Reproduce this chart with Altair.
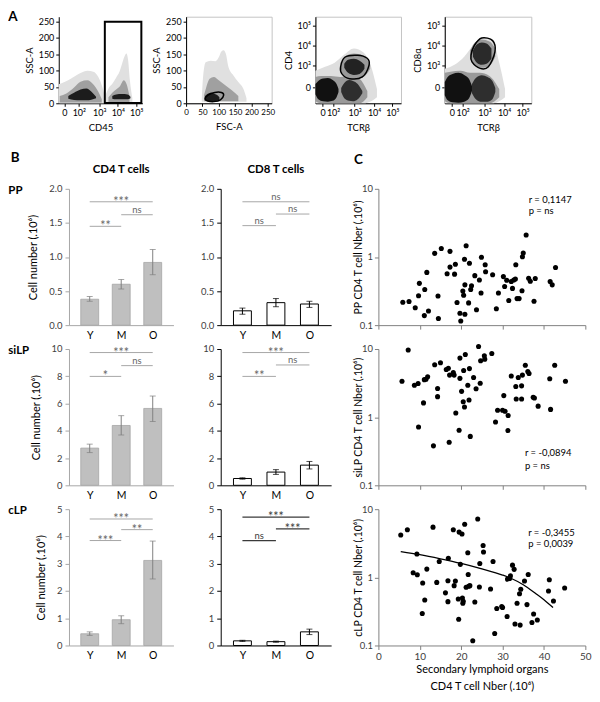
import json
import altair as alt
import pandas as pd

FONT = "Lato"

# ---------------- Panel A: flow cytometry sketches ----------------
dec_labels = ["0", "10²", "10³", "10⁴", "10⁵"]
a1_xticks = [0.29, 1.05, 2.12, 3.09, 4.05]
lin_ticks = [0, 50, 100, 150, 200, 250]
a34_xticks = [0.37, 0.92, 2.04, 3.05, 4.0]
a34_yticks = [0.79, 1.85, 2.85, 3.85]
a34_ylabels = ["0", "10³", "10⁴", "10⁵"]

a1_blobs = [
    dict(x=[0, 0.3, 0.63, 1.14, 1.5, 1.81, 2.07, 2.25, 2.4], lo=[0] * 9,
         hi=[58, 65, 75, 92, 99, 96, 80, 55, 25]),
    dict(x=[2.45, 2.6, 2.83, 3.0, 3.17, 3.3, 3.42, 3.54, 3.62, 3.72, 3.85], lo=[0] * 11,
         hi=[25, 45, 62, 78, 95, 118, 140, 152, 135, 70, 15]),
    dict(x=[0.05, 0.4, 0.8, 1.14, 1.5, 1.8, 2.07, 2.25], lo=[2] * 8,
         hi=[22, 30, 48, 66, 70, 58, 35, 12]),
    dict(x=[2.6, 2.8, 3.0, 3.2, 3.4, 3.55, 3.7], lo=[3] * 7,
         hi=[18, 32, 42, 52, 70, 58, 22]),
    dict(x=[0.5, 0.8, 1.14, 1.45, 1.7, 1.95], lo=[14, 10, 9, 9, 11, 15],
         hi=[22, 32, 42, 45, 36, 20]),
    dict(x=[2.8, 3.0, 3.3, 3.6, 3.75], lo=[14, 12, 12, 12, 15],
         hi=[22, 27, 28, 27, 20]),
]
a1_tones = ["#e0e0e0", "#e0e0e0", "#a0a0a0", "#a0a0a0", "#1c1c1c", "#1c1c1c"]
a1_gate = dict(x1=[2.41], x2=[4.32], y1=[1], y2=[249])

a2_blobs = [
    dict(x=[48, 52, 60, 75, 90, 100, 108, 115, 122, 130, 145, 160, 175, 185], lo=[5] * 14,
         hi=[12, 80, 125, 130, 128, 140, 158, 162, 150, 110, 85, 65, 45, 15]),
    dict(x=[55, 62, 72, 85, 100, 120, 140, 160], lo=[6] * 8,
         hi=[25, 50, 75, 80, 70, 55, 40, 22]),
    dict(x=[58, 65, 75, 85, 95, 102], lo=[10, 8, 7, 7, 8, 11],
         hi=[22, 28, 32, 30, 25, 18]),
]
a2_tones = ["#e0e0e0", "#a0a0a0", "#1c1c1c"]
a2_gate_x = [58, 66, 85, 105, 115, 108, 88, 67]
a2_gate_y = [13, 7, 5, 10, 25, 33, 33, 25]

a3_blobs = [
    dict(x=[0, 0.5, 1.0, 1.5, 2.0, 2.5, 2.9, 3.2], lo=[0, 0, 0, 0, 0, 0, 0.1, 0.3],
         hi=[1.6, 1.8, 2.0, 2.4, 2.7, 2.5, 1.8, 0.7]),
    dict(x=[0, 0.3, 0.8, 1.3, 1.8, 2.3, 2.7], lo=[0.1, 0, 0, 0, 0, 0, 0.3],
         hi=[1.3, 1.35, 1.35, 1.3, 1.35, 1.2, 0.6]),
    dict(x=[1.3, 1.6, 2.0, 2.5, 2.85], lo=[1.6, 1.3, 1.2, 1.3, 1.7],
         hi=[2.0, 2.35, 2.45, 2.35, 1.9]),
    dict(x=[0.0, 0.15, 0.4, 0.65, 0.9, 1.1, 1.2], lo=[0.45, 0.2, 0.1, 0.08, 0.12, 0.3, 0.55],
         hi=[0.95, 1.1, 1.22, 1.25, 1.15, 0.95, 0.7]),
    dict(x=[1.34, 1.5, 1.75, 1.95, 2.2, 2.44], lo=[0.55, 0.25, 0.12, 0.1, 0.2, 0.5],
         hi=[0.75, 1.0, 1.15, 1.1, 0.95, 0.6]),
    dict(x=[1.5, 1.7, 2.0, 2.3, 2.55], lo=[1.75, 1.5, 1.4, 1.45, 1.7],
         hi=[1.95, 2.15, 2.2, 2.1, 1.9]),
]
a3_tones = ["#dedede", "#9a9a9a", "#9a9a9a", "#111111", "#2e2e2e", "#222222"]
a3_gate_x = [1.31, 1.53, 2.19, 2.69, 2.79, 2.44, 1.78, 1.38]
a3_gate_y = [1.79, 2.27, 2.37, 2.22, 1.88, 1.30, 1.21, 1.45]

a4_blobs = [
    dict(x=[0, 0.5, 1.0, 1.5, 2.0, 2.5, 2.8, 3.1], lo=[0, 0, 0, 0, 0, 0, 0.1, 0.3],
         hi=[1.7, 1.9, 2.3, 2.9, 3.2, 3.0, 2.0, 0.7]),
    dict(x=[0, 0.3, 0.8, 1.3, 1.8, 2.3, 2.8], lo=[0.1, 0, 0, 0, 0, 0, 0.3],
         hi=[1.5, 1.55, 1.6, 1.5, 1.5, 1.35, 0.7]),
    dict(x=[1.3, 1.55, 1.9, 2.3, 2.6], lo=[2.2, 1.85, 1.75, 1.85, 2.3],
         hi=[2.6, 3.0, 3.15, 3.05, 2.7]),
    dict(x=[0.0, 0.15, 0.4, 0.7, 1.0, 1.25, 1.4], lo=[0.4, 0.15, 0.05, 0.03, 0.08, 0.25, 0.6],
         hi=[1.05, 1.3, 1.45, 1.5, 1.4, 1.2, 0.85]),
    dict(x=[1.4, 1.6, 1.9, 2.2, 2.45, 2.6], lo=[0.5, 0.2, 0.07, 0.08, 0.2, 0.55],
         hi=[0.95, 1.25, 1.38, 1.3, 1.1, 0.75]),
    dict(x=[1.45, 1.65, 1.9, 2.15, 2.4], lo=[2.3, 2.0, 1.9, 1.95, 2.2],
         hi=[2.6, 2.9, 3.0, 2.95, 2.7]),
]
a4_tones = ["#dedede", "#9a9a9a", "#9a9a9a", "#111111", "#2e2e2e", "#2a2a2a"]
a4_gate_x = [1.35, 1.52, 1.90, 2.46, 2.58, 2.24, 1.82, 1.40]
a4_gate_y = [2.37, 2.85, 3.22, 3.09, 2.53, 1.80, 1.72, 2.04]

# ---------------- Panel B: bar charts ----------------
groups = ["Y", "M", "O"]

pp_cd4_mean = [0.38, 0.60, 0.92]
pp_cd4_lo = [0.35, 0.53, 0.74]
pp_cd4_hi = [0.42, 0.67, 1.11]
pp_cd4_sig = dict(f=[0, 1, 0], t=[2, 2, 1], lev=[1.81, 1.62, 1.45], txt=["***", "ns", "**"])

pp_cd8_mean = [0.21, 0.33, 0.31]
pp_cd8_lo = [0.16, 0.27, 0.26]
pp_cd8_hi = [0.25, 0.39, 0.35]
pp_cd8_sig = dict(f=[0, 1, 0], t=[2, 2, 1], lev=[1.81, 1.63, 1.46], txt=["ns", "ns", "ns"])

si_cd4_mean = [2.73, 4.39, 5.64]
si_cd4_lo = [2.40, 3.69, 4.68]
si_cd4_hi = [3.02, 5.11, 6.55]
si_cd4_sig = dict(f=[0, 1, 0], t=[2, 2, 1], lev=[9.74, 8.78, 7.99], txt=["***", "ns", "*"])

si_cd8_mean = [0.50, 0.97, 1.48]
si_cd8_lo = [0.45, 0.80, 1.20]
si_cd8_hi = [0.55, 1.15, 1.75]
si_cd8_sig = dict(f=[0, 1, 0], t=[2, 2, 1], lev=[9.74, 8.83, 7.99], txt=["***", "ns", "**"])

cl_cd4_mean = [0.43, 0.945, 3.12]
cl_cd4_lo = [0.37, 0.80, 2.44]
cl_cd4_hi = [0.50, 1.09, 3.83]
cl_cd4_sig = dict(f=[0, 1, 0], t=[2, 2, 1], lev=[4.64, 4.25, 3.85], txt=["***", "**", "***"])

cl_cd8_mean = [0.17, 0.14, 0.50]
cl_cd8_lo = [0.15, 0.12, 0.40]
cl_cd8_hi = [0.19, 0.16, 0.60]
cl_cd8_sig = dict(f=[0, 1, 0], t=[2, 2, 1], lev=[4.71, 4.28, 3.85], txt=["***", "***", "ns"])

# ---------------- Panel C: scatter plots ----------------
pp_x = [5.9, 7.4, 8.9, 9.7, 9.9, 11.1, 11.2, 11.7, 12.1, 13.6, 14.4, 14.5, 15.2, 16.6, 17.3, 17.3,
        18.4, 18.6, 19.0, 19.7, 19.9, 20.4, 20.6, 20.8, 20.9, 20.9, 21.2, 21.8, 22.0, 22.3, 22.5,
        23.3, 23.7, 24.4, 24.8, 24.9, 25.8, 25.9, 27.6, 28.5, 29.0, 30.2, 30.5, 31.0, 31.5, 32.1,
        32.4, 32.7, 33.1, 33.2, 33.5, 34.0, 34.7, 34.8, 35.0, 35.7, 36.3, 36.7, 37.6, 37.9, 41.5,
        42.0, 42.8]
pp_y = [0.217, 0.222, 0.18, 0.27, 0.41, 0.138, 0.334, 0.594, 0.161, 1.13, 0.268, 0.125, 1.33,
        0.569, 0.71, 1.21, 0.56, 0.78, 0.215, 0.149, 0.115, 0.316, 0.274, 0.925, 0.144, 0.39,
        1.46, 0.212, 0.81, 0.334, 0.377, 0.532, 0.168, 0.46, 0.296, 0.99, 0.767, 0.608, 0.55,
        0.174, 0.296, 0.515, 0.369, 0.456, 0.23, 0.436, 0.346, 0.46, 0.476, 0.767, 0.245, 0.245,
        0.32, 1.01, 1.14, 2.10, 0.487, 0.441, 0.224, 0.482, 0.436, 0.39, 0.702]

si_x = [5.7, 7.2, 8.7, 9.6, 9.7, 10.9, 11.1, 11.5, 11.9, 13.3, 13.6, 14.3, 14.3, 15.0, 16.4, 16.9,
        17.2, 17.1, 18.1, 18.3, 18.7, 19.5, 19.7, 19.7, 20.1, 20.5, 20.6, 20.8, 21.0, 21.6, 21.9,
        22.0, 22.2, 23.0, 23.6, 24.2, 24.6, 24.7, 25.6, 25.7, 27.4, 28.3, 28.8, 30.0, 30.3, 30.6,
        31.35, 31.3, 32.1, 33.2, 33.3, 33.8, 34.6, 34.6, 34.8, 35.5, 36.1, 36.4, 37.4, 37.7, 38.6,
        41.4, 41.6, 42.6, 45.2]
si_y = [3.36, 9.68, 2.94, 3.11, 0.718, 1.62, 3.55, 3.59, 3.92, 0.379, 5.89, 2.64, 2.0, 6.3, 5.0,
        5.22, 4.14, 0.428, 4.52, 4.14, 1.15, 0.644, 3.71, 7.35, 2.39, 1.68, 4.83, 1.41, 8.29, 2.94,
        1.79, 5.16, 0.522, 3.83, 2.61, 10.9, 3.15, 6.72, 7.94, 7.1, 8.57, 0.848, 1.26, 1.26, 2.07,
        1.22, 1.06, 0.637, 4.01, 2.82, 1.85, 3.83, 1.85, 2.88, 4.14, 5.77, 4.68, 4.38, 1.96, 1.91,
        1.45, 3.67, 1.30, 5.77, 3.36]

cl_x = [5.4, 7.0, 8.4, 9.3, 9.4, 10.6, 10.7, 11.2, 11.7, 13.2, 14.1, 14.7, 16.2, 16.8, 16.8, 16.9,
        18.1, 18.3, 18.6, 19.3, 19.4, 19.5, 19.8, 20.2, 20.3, 20.4, 20.5, 20.85, 21.2, 21.6, 21.7,
        21.8, 22.1, 22.8, 23.3, 24.0, 24.4, 24.5, 25.3, 25.4, 27.1, 27.7, 28.1, 28.6, 29.8, 30.0,
        31.1, 31.2, 31.7, 31.9, 32.4, 32.8, 33.0, 33.5, 34.1, 34.25, 34.4, 35.3, 35.9, 36.2, 37.1,
        37.5, 38.4, 41.1, 41.3, 42.3, 45.0]
cl_y = [4.18, 4.99, 1.17, 2.20, 1.09, 0.295, 0.824, 0.465, 1.32, 5.45, 0.843, 1.71, 0.592, 0.891,
        0.44, 1.91, 4.99, 0.755, 0.881, 0.48, 0.242, 4.61, 1.55, 4.32, 0.496, 0.416, 0.444, 6.02,
        0.714, 2.30, 1.10, 0.738, 0.755, 0.117, 0.435, 7.18, 0.722, 1.60, 2.94, 2.35, 0.676, 1.71,
        0.150, 0.348, 0.372, 0.36, 0.267, 0.941, 0.962, 1.05, 1.51, 1.31, 0.207, 0.416, 0.573,
        0.199, 0.668, 0.881, 0.398, 1.10, 0.217, 0.289, 0.237, 0.632, 0.92, 0.449, 0.698]

cl_fit_x = [5.4, 10, 15, 20, 25, 30, 32, 35, 38, 40, 42.2]
cl_fit_y = [2.38, 2.15, 1.87, 1.60, 1.33, 1.08, 0.97, 0.78, 0.58, 0.47, 0.36]

pp_stats = dict(t=["r = 0,1147", "p = ns"], x=[36.3, 36.3], y=[6.95, 4.8])
si_stats = dict(t=["r = -0,0894", "p = ns"], x=[35.4, 35.4], y=[0.296, 0.195])
cl_stats = dict(t=["r = -0,3455", "p = 0,0039"], x=[36.2, 36.2], y=[4.47, 3.13])

x_title_c = ["Secondary lymphoid organs", "CD4 T cell Nber (.10⁶)"]


def label_expr(values, labels):
    return f"{json.dumps(labels, ensure_ascii=False)}[indexof({json.dumps(values)}, datum.value)]"


def text_layer(txt, x, y, size, bold=True, align="left", baseline="top", color="black"):
    return alt.Chart(pd.DataFrame({"t": [txt]})).mark_text(
        font=FONT, fontSize=size, fontWeight="bold" if bold else "normal",
        align=align, baseline=baseline, color=color
    ).encode(text="t:N", x=alt.value(x), y=alt.value(y))


def flow_panel(W, H, xdom, ydom, xvals, xlabels, yvals, ylabels, xtitle, ytitle,
               blobs, tones, gate_x=None, gate_y=None, rect=None, frame=True, letter=False,
               xlabel_size=9):
    xs = alt.Scale(domain=xdom, nice=False, zero=False)
    ys = alt.Scale(domain=ydom, nice=False, zero=False)
    common = dict(tickSize=3, domainColor="black", tickColor="black",
                  labelColor="black", labelFlush=False, labelOverlap=False,
                  titleFontSize=9.5, titleFontWeight="normal", grid=False)
    xa = dict(values=xvals, labelPadding=2, labelFontSize=xlabel_size, title=xtitle,
              titlePadding=5, **common)
    if xlabels:
        xa["labelExpr"] = label_expr(xvals, xlabels)
    ya = dict(values=yvals, labelPadding=2, labelFontSize=9, title=ytitle, titlePadding=4, **common)
    if ylabels:
        ya["labelExpr"] = label_expr(yvals, ylabels)
    xaxis = alt.Axis(**xa)
    yaxis = alt.Axis(**ya)

    layers = []
    for b, tone in zip(blobs, tones):
        df = pd.DataFrame({"x": b["x"], "lo": b["lo"], "hi": b["hi"]})
        layers.append(
            alt.Chart(df).mark_area(color=tone, interpolate="monotone").encode(
                x=alt.X("x:Q", scale=xs, axis=xaxis),
                y=alt.Y("hi:Q", scale=ys, axis=yaxis, stack=None),
                y2="lo:Q",
            )
        )
    if gate_x is not None:
        gdf = pd.DataFrame({"x": gate_x, "y": gate_y, "k": list(range(len(gate_x)))})
        layers.append(
            alt.Chart(gdf).mark_line(interpolate="cardinal-closed", color="black", strokeWidth=1.5).encode(
                x=alt.X("x:Q", scale=xs, axis=xaxis),
                y=alt.Y("y:Q", scale=ys, axis=yaxis),
                order="k:Q",
            )
        )
    if rect is not None:
        rdf = pd.DataFrame(rect)
        layers.append(
            alt.Chart(rdf).mark_rect(fillOpacity=0, stroke="black", strokeWidth=2).encode(
                x=alt.X("x1:Q", scale=xs, axis=xaxis), x2="x2:Q",
                y=alt.Y("y1:Q", scale=ys, axis=yaxis), y2="y2:Q",
            )
        )
    if letter:
        layers.append(text_layer("A", -50.7, -7, 13.5))
    ch = alt.layer(*layers).properties(width=W, height=H)
    if frame:
        ch = ch.properties(view=alt.ViewBackground(stroke="#c4c4c4", strokeWidth=1))
    return ch


def bar_panel(mean, lo, hi, sig, ymax, yticks, yfmt, filled, W, H, ytitle=None,
              row_label=None, col_title=None, letter=False, dark_brackets=False):
    idx = list(range(len(groups)))
    bars = pd.DataFrame({"i": idx, "m": mean, "lo": lo, "hi": hi})
    sdf = pd.DataFrame(sig)
    sdf["mid"] = (sdf["f"] + sdf["t"]) / 2
    xs = alt.Scale(domain=[-0.5, len(groups) - 0.5], nice=False, zero=False)
    ys = alt.Scale(domain=[0, ymax], nice=False)
    axis_col = "#a6a6a6" if filled else "#000000"
    xaxis = alt.Axis(values=idx, labelExpr=label_expr(idx, groups), ticks=False,
                     domainColor=axis_col, labelPadding=5, labelFontSize=10.5,
                     labelColor="black", title=None, grid=False, labelFlush=False)
    yaxis = alt.Axis(values=yticks, format=yfmt, domainColor=axis_col, tickColor=axis_col,
                     tickSize=4, labelFontSize=9.5, labelColor="#404040", grid=False,
                     title=ytitle, titleFontSize=11, titleFontWeight="normal",
                     titleColor="black", titlePadding=10, labelPadding=3, labelFlush=False)

    def X(f):
        return alt.X(f, type="quantitative", scale=xs, axis=xaxis)

    def Y(f):
        return alt.Y(f, type="quantitative", scale=ys, axis=yaxis)

    if filled:
        bar = alt.Chart(bars).mark_bar(orient="vertical", size=18, fill="#bfbfbf",
                                       stroke="#a5a5a5", strokeWidth=0.8)
        ec = "#808080"
    else:
        bar = alt.Chart(bars).mark_bar(orient="vertical", size=18, fill="white",
                                       stroke="black", strokeWidth=1)
        ec = "black"
    bar = bar.encode(x=X("i"), y=Y("m"))
    err = alt.Chart(bars).mark_rule(color=ec, strokeWidth=1).encode(x=X("i"), y=Y("lo"), y2="hi:Q")
    cap_lo = alt.Chart(bars).mark_tick(orient="horizontal", size=6, thickness=1, color=ec).encode(
        x=X("i"), y=Y("lo"))
    cap_hi = alt.Chart(bars).mark_tick(orient="horizontal", size=6, thickness=1, color=ec).encode(
        x=X("i"), y=Y("hi"))
    bcol = "#3a3a3a" if dark_brackets else "#a6a6a6"
    tcol = "#3a3a3a" if dark_brackets else "#666666"
    br = alt.Chart(sdf).mark_rule(color=bcol, strokeWidth=1.2 if dark_brackets else 1).encode(
        x=X("f"), x2="t:Q", y=Y("lev"))
    stars = alt.Chart(sdf).transform_filter("datum.txt != 'ns'").mark_text(
        font=FONT, fontSize=12.5, color=tcol, baseline="alphabetic", dy=4).encode(
        x=X("mid"), y=Y("lev"), text="txt:N")
    ns = alt.Chart(sdf).transform_filter("datum.txt == 'ns'").mark_text(
        font=FONT, fontSize=9.5, color=tcol, baseline="alphabetic", dy=-2).encode(
        x=X("mid"), y=Y("lev"), text="txt:N")
    layers = [bar, err, cap_lo, cap_hi, br, stars, ns]
    if row_label:
        layers.append(text_layer(row_label, -61, 2, 11.5, baseline="middle"))
    if col_title:
        layers.append(text_layer(col_title, W / 2, -19, 11.5, align="center", baseline="middle"))
    if letter:
        layers.append(text_layer("B", -58.5, -37.6, 13.5))
    return alt.layer(*layers).properties(width=W, height=H)


def scatter_panel(xv, yv, ytitle, stats, show_x, W, H, fit_x=None, fit_y=None, letter=False):
    pts = pd.DataFrame({"x": xv, "y": yv})
    xs = alt.Scale(domain=[0, 50], nice=False)
    ys = alt.Scale(type="log", domain=[0.1, 10], nice=False)
    xaxis = alt.Axis(values=[0, 10, 20, 30, 40, 50], labels=show_x,
                     title=x_title_c if show_x else None, tickSize=4,
                     domainColor="#808080", tickColor="#808080", labelFontSize=10,
                     labelColor="#404040", titleFontSize=11, titleFontWeight="normal",
                     titleColor="black", titlePadding=2, titleLineHeight=17, grid=False,
                     labelFlush=False, labelPadding=2)
    yaxis = alt.Axis(values=[0.1, 1, 10], format="~g", tickSize=4, domainColor="#808080",
                     tickColor="#808080", labelFontSize=9.5, labelColor="#404040",
                     title=ytitle, titleFontSize=10.5, titleFontWeight="normal",
                     titleColor="black", titleX=-15, titleBaseline="bottom", grid=False,
                     labelFlush=False, labelPadding=2)

    def X(f):
        return alt.X(f, type="quantitative", scale=xs, axis=xaxis)

    def Y(f):
        return alt.Y(f, type="quantitative", scale=ys, axis=yaxis)

    dots = alt.Chart(pts).mark_circle(size=26, color="black", opacity=1).encode(x=X("x"), y=Y("y"))
    st = alt.Chart(pd.DataFrame(stats)).mark_text(font=FONT, fontSize=9.5, align="left",
                                                  baseline="middle", color="black").encode(
        x=X("x"), y=Y("y"), text="t:N")
    layers = [dots, st]
    if fit_x is not None:
        fdf = pd.DataFrame({"x": fit_x, "y": fit_y})
        layers.append(alt.Chart(fdf).mark_line(color="black", strokeWidth=1.3,
                                               interpolate="monotone").encode(x=X("x"), y=Y("y")))
    if letter:
        layers.append(text_layer("C", -24.5, -36, 13.5))
    return alt.layer(*layers).properties(width=W, height=H)


# ---------------- assemble ----------------
AH = 87
A1 = flow_panel(84, AH, [0, 4.37], [0, 264], a1_xticks, dec_labels, lin_ticks, None,
                "CD45", "SSC-A", a1_blobs, a1_tones, rect=a1_gate, frame=False, letter=True)
A2 = flow_panel(86, AH, [0, 262], [0, 264], lin_ticks, None, lin_ticks, None,
                "FSC-A", "SSC-A", a2_blobs, a2_tones, gate_x=a2_gate_x, gate_y=a2_gate_y,
                xlabel_size=8)
A3 = flow_panel(86, AH, [0, 4.45], [0, 4.27], a34_xticks, dec_labels, a34_yticks, a34_ylabels,
                "TCRβ", "CD4", a3_blobs, a3_tones, gate_x=a3_gate_x, gate_y=a3_gate_y)
A4 = flow_panel(87, AH, [0, 4.45], [0, 4.27], a34_xticks, dec_labels, a34_yticks, a34_ylabels,
                "TCRβ", "CD8α", a4_blobs, a4_tones, gate_x=a4_gate_x, gate_y=a4_gate_y)
rowA = alt.hconcat(A1, A2, A3, A4, spacing=44, bounds="flush")

W1, W2, W3, H = 105, 111, 208, 137
ytl = "Cell number (.10⁶)"
b_pp4 = bar_panel(pp_cd4_mean, pp_cd4_lo, pp_cd4_hi, pp_cd4_sig, 2.0, [0, 0.5, 1.0, 1.5, 2.0], ".1f",
                  True, W1, H, ytl, row_label="PP", col_title="CD4 T cells", letter=True)
b_pp8 = bar_panel(pp_cd8_mean, pp_cd8_lo, pp_cd8_hi, pp_cd8_sig, 2.0, [0, 0.5, 1.0, 1.5, 2.0], ".1f",
                  False, W2, H, None, col_title="CD8 T cells")
c_pp = scatter_panel(pp_x, pp_y, "PP CD4 T cell Nber (.10⁶)", pp_stats, False, W3, H, letter=True)

b_si4 = bar_panel(si_cd4_mean, si_cd4_lo, si_cd4_hi, si_cd4_sig, 10, [0, 2, 4, 6, 8, 10], "d",
                  True, W1, H, ytl, row_label="siLP")
b_si8 = bar_panel(si_cd8_mean, si_cd8_lo, si_cd8_hi, si_cd8_sig, 10, [0, 2, 4, 6, 8, 10], "d",
                  False, W2, H, None)
c_si = scatter_panel(si_x, si_y, "siLP CD4 T cell Nber (.10⁶)", si_stats, False, W3, H)

b_cl4 = bar_panel(cl_cd4_mean, cl_cd4_lo, cl_cd4_hi, cl_cd4_sig, 5, [0, 1, 2, 3, 4, 5], "d",
                  True, W1, H, ytl, row_label="cLP")
b_cl8 = bar_panel(cl_cd8_mean, cl_cd8_lo, cl_cd8_hi, cl_cd8_sig, 5, [0, 1, 2, 3, 4, 5], "d",
                  False, W2, H, None, dark_brackets=True)
c_cl = scatter_panel(cl_x, cl_y, "cLP CD4 T cell Nber (.10⁶)", cl_stats, True, W3, H,
                     fit_x=cl_fit_x, fit_y=cl_fit_y)

gridB = alt.concat(b_pp4, b_pp8, c_pp, b_si4, b_si8, c_si, b_cl4, b_cl8, c_cl,
                   columns=3, spacing={"row": 24, "column": 47.5}, bounds="flush", align="each")

# invisible 1px spacer so that panel B sits slightly right of panel A's first plot
spacer = alt.Chart(pd.DataFrame({"v": [0]})).mark_point(opacity=0).encode(
    x=alt.value(0), y=alt.value(0)).properties(width=1, height=1)
rowB = alt.hconcat(spacer, gridB, spacing=9.3, bounds="flush")

chart = alt.vconcat(rowA, rowB, spacing=19).properties(padding=0).configure_view(
    stroke=None).configure_axis(labelFont=FONT, titleFont=FONT).configure_text(font=FONT)

chart.save("out.html", embed_options={"renderer": "svg", "actions": False})
